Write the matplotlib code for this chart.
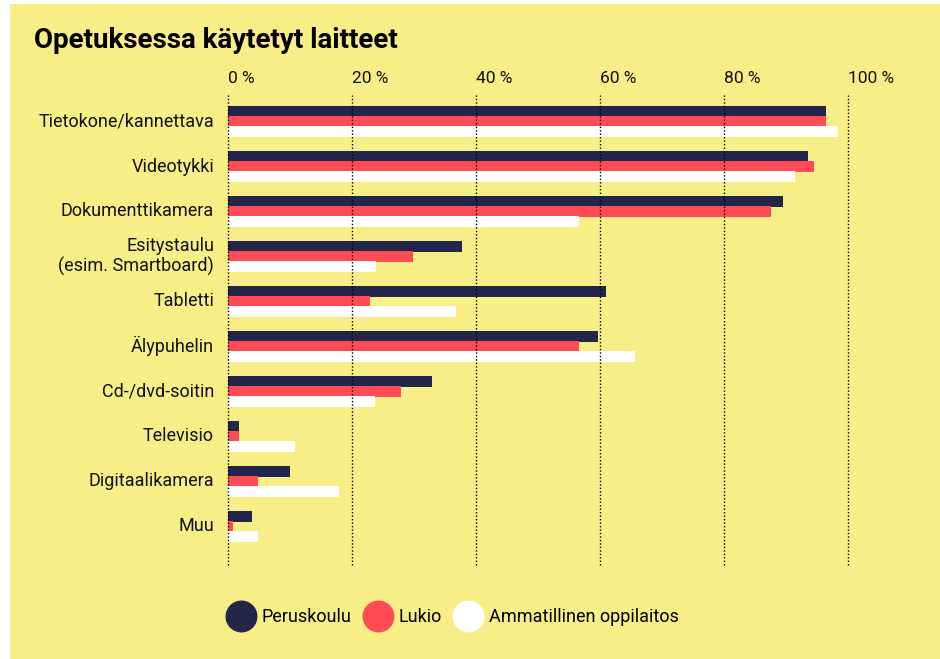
import matplotlib
matplotlib.use("Agg")
from matplotlib import pyplot as plt
from matplotlib.patches import Rectangle
from matplotlib.lines import Line2D
import numpy as np

# Data
categories = ["Tietokone/kannettava", "Videotykki", "Dokumenttikamera",
              "Esitystaulu\n(esim. Smartboard)", "Tabletti", "Älypuhelin",
              "Cd-/dvd-soitin", "Televisio", "Digitaalikamera", "Muu"]
peruskoulu = [96.4, 93.5, 89.5, 37.7, 60.9, 59.6, 32.8, 1.8, 9.9, 3.9]
lukio = [96.4, 94.5, 87.6, 29.8, 22.9, 56.5, 27.8, 1.8, 4.8, 0.8]
ammatillinen = [98.3, 91.4, 56.5, 23.8, 36.7, 65.6, 23.7, 10.8, 17.8, 4.8]
series_names = ["Peruskoulu", "Lukio", "Ammatillinen oppilaitos"]
ticks = [0, 20, 40, 60, 80, 100]

yellow = "#F8EE88"
colors = ["#22264A", "#FF4B55", "#FFFFFF"]
plt.rcParams["font.family"] = ["Roboto", "DejaVu Sans"]

fig = plt.figure(figsize=(9.4, 6.59), dpi=100)
fig.patch.set_facecolor("white")
# yellow panel with a thin white margin top/left
fig.patches.append(Rectangle((10 / 940, 0), 1, 1 - 4 / 659, transform=fig.transFigure,
                             facecolor=yellow, edgecolor="none", zorder=-10))

ax = fig.add_axes([228.3 / 940, 1 - 565 / 659, 620 / 940, 470 / 659])
ax.set_facecolor("none")
ax.set_zorder(5)

y = np.arange(len(categories))
h = 0.235
for i, vals in enumerate([peruskoulu, lukio, ammatillinen]):
    ax.barh(y + (i - 1) * 0.222, vals, height=h, color=colors[i], zorder=2,
            linewidth=0)

ax.set_xlim(0, 100)
ax.set_ylim(9.86, -0.59)

# dotted gridlines above the bars
for t in ticks:
    ax.axvline(t, color="black", linestyle=(0, (1, 1.5)), linewidth=1.0, zorder=3,
               clip_on=False)
    ax.text(t, -0.8, f"{t} %", ha="left", va="bottom", fontsize=12.5,
            color="#111111", clip_on=False)

ax.set_xticks([])
ax.set_yticks([])
for s in ax.spines.values():
    s.set_visible(False)

for yi, lab in zip(y, categories):
    ax.text(-2.3, yi, lab, ha="right", va="center", multialignment="right",
            fontsize=13, color="#111111", linespacing=1.1, clip_on=False)

fig.text(34 / 940, 1 - 40 / 659, "Opetuksessa käytetyt laitteet", ha="left",
         va="center", fontsize=20, fontweight="bold", color="black")

handles = [Line2D([0], [0], marker="o", linestyle="none", markersize=22,
                  markerfacecolor=c, markeredgecolor=c) for c in colors]
fig.legend(handles, series_names, loc="center left",
           bbox_to_anchor=(222 / 940, 1 - 617 / 659), ncol=3, frameon=False,
           fontsize=13, handletextpad=0.5, columnspacing=0.8,
           borderaxespad=0, handlelength=1.3)

fig.savefig("out.png", dpi=100, facecolor=fig.get_facecolor())
